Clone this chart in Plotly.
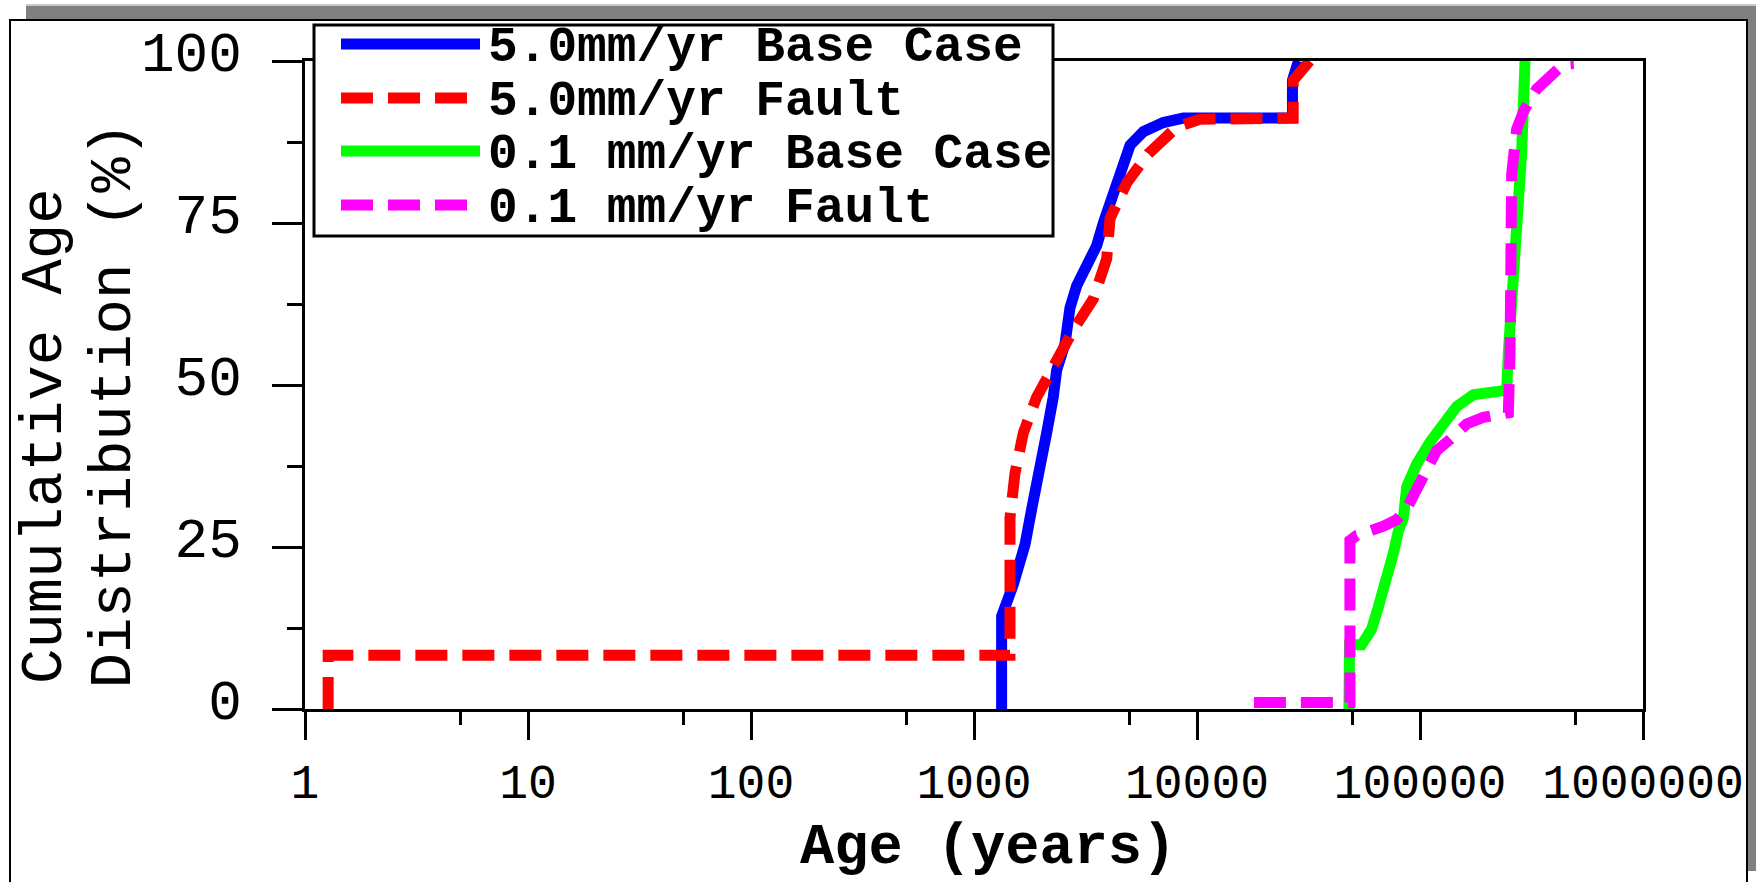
import plotly.graph_objects as go

# ---- data: cumulative age distributions (age in years, cumulative %) ----
base5_age = [1330, 1330, 1500, 1694, 1815, 1942, 2117, 2266, 2348, 2560, 2693, 2886,
             3200, 3548, 3802, 4142, 4517, 5011, 5746, 7060, 8690, 26800, 26800, 27800, 28500]
base5_pct = [0, 14.3, 19.2, 25.4, 30.9, 37.1, 42.6, 48.1, 52.3, 56.4, 61.9, 65.3,
             68.1, 71.5, 75.0, 79.1, 83.3, 87.0, 89.1, 90.5, 91.2, 91.2, 97.0, 99.8, 100]

fault5_age = [1.27, 1.27, 1450, 1450, 1450, 1527, 1664, 1908, 2268, 2788, 3430, 3937,
              4074, 4843, 6055, 8110, 10300, 27000, 27000, 32000]
fault5_pct = [0, 8.3, 8.3, 21.9, 29.5, 36.4, 42.6, 48.1, 53.0, 58.5, 63.3, 69.5,
              75.7, 81.2, 85.7, 89.8, 91.0, 91.2, 97.0, 100]

base01_age = [48000, 48300, 54700, 60600, 65000, 70900, 75900, 80000, 84200, 87200, 96600,
              110900, 127300, 146100, 173500, 232400, 244700, 249000, 262000, 276000,
              285800, 295800]
base01_pct = [0, 9.9, 9.9, 12.3, 15.7, 19.9, 24.0, 27.5, 29.5, 34.3, 37.8,
              41.2, 44.0, 46.7, 48.5, 49.2, 49.2, 55.0, 65.3, 75.7,
              86.0, 100]

fault01_age = [18000, 48500, 48500, 52000, 68500, 78600, 87100, 93300, 100000, 109000,
               118800, 136400, 161900, 192200, 236400, 249000, 253400, 253400, 257700,
               271400, 291000, 333700, 382800, 439300, 489000]
fault01_pct = [1.0, 1.0, 26.0, 26.8, 28.2, 29.2, 30.9, 33.0, 35.4, 37.4,
               39.9, 41.6, 44.0, 45.0, 45.7, 45.7, 55.0, 68.8, 82.6,
               89.5, 92.2, 95.7, 97.7, 99.5, 99.6]

series_names = ["5.0mm/yr Base Case", "5.0mm/yr Fault",
                "0.1 mm/yr Base Case", "0.1 mm/yr Fault"]
series_colors = ["#0000ff", "#ff0000", "#00ff00", "#ff00ff"]
series_dash = ["solid", "32px,15px", "solid", "32px,15px"]

x_tick_vals = [1, 10, 100, 1000, 10000, 100000, 1000000]
x_tick_text = ["1", "10", "100", "1000", "10000", "100000", "1000000"]
x_minor_vals = [5, 50, 500, 5000, 50000, 500000]
y_tick_vals = [0, 25, 50, 75, 100]
y_minor_vals = [12.5, 37.5, 62.5, 87.5]

# ---- layout geometry (pixels) ----
W, H = 1756, 882
L, R, T, B = 305, 1643, 61, 709          # plot area edges
PW, PH = R - L, B - T
FONT = "Liberation Mono"


def px(xp):
    return (xp - L) / PW


def py(yp):
    return (B - yp) / PH


fig = go.Figure()
all_x = [base5_age, fault5_age, base01_age, fault01_age]
all_y = [base5_pct, fault5_pct, base01_pct, fault01_pct]
for xs, ys, name, col, dash in zip(all_x, all_y, series_names, series_colors, series_dash):
    fig.add_trace(go.Scatter(
        x=xs, y=ys, mode="lines", name=name, showlegend=False,
        line=dict(color=col, width=11, dash=dash),
    ))

shapes = []
# window shadow and frame
shapes.append(dict(type="rect", xref="paper", yref="paper", layer="below",
                   x0=px(26), x1=px(1760), y0=py(871), y1=py(4),
                   fillcolor="#808080", line=dict(width=0)))
shapes.append(dict(type="line", xref="paper", yref="paper", layer="below",
                   x0=px(26), x1=px(1760), y0=py(5), y1=py(5),
                   line=dict(color="#c8c8c8", width=2)))
shapes.append(dict(type="rect", xref="paper", yref="paper", layer="below",
                   x0=px(10), x1=px(1747), y0=py(900), y1=py(20),
                   fillcolor="white", line=dict(color="black", width=2)))

# legend box
LEG_X0, LEG_X1, LEG_Y0, LEG_Y1 = 314, 1053, 25, 236
shapes.append(dict(type="rect", xref="paper", yref="paper", layer="above",
                   x0=px(LEG_X0), x1=px(LEG_X1), y0=py(LEG_Y1), y1=py(LEG_Y0),
                   fillcolor="white", line=dict(color="black", width=3)))
row_y = [44, 98, 151, 205]
annotations = []
for yrow, name, col, dash in zip(row_y, series_names, series_colors, series_dash):
    shapes.append(dict(type="line", xref="paper", yref="paper", layer="above",
                       x0=px(341), x1=px(480), y0=py(yrow), y1=py(yrow),
                       line=dict(color=col, width=11, dash=dash)))
    annotations.append(dict(xref="paper", yref="paper", x=px(486), y=py(yrow + 4),
                            xanchor="left", yanchor="middle", showarrow=False,
                            text=name, font=dict(family=FONT, size=49.5, color="black",
                                                 weight="bold")))

# axis titles
annotations.append(dict(xref="paper", yref="paper", x=px(988), y=py(848),
                        xanchor="center", yanchor="middle", showarrow=False,
                        text="Age (years)",
                        font=dict(family=FONT, size=57, color="black", weight="bold")))
annotations.append(dict(xref="paper", yref="paper", x=px(45), y=py(686),
                        xanchor="center", yanchor="bottom", textangle=-90,
                        showarrow=False, text="Cumulative Age",
                        font=dict(family=FONT, size=59, color="black")))
annotations.append(dict(xref="paper", yref="paper", x=px(114), y=py(691),
                        xanchor="center", yanchor="bottom", textangle=-90,
                        showarrow=False, text="Distribution (%)",
                        font=dict(family=FONT, size=59, color="black")))

fig.update_layout(
    width=W, height=H,
    margin=dict(l=L, r=W - R, t=T, b=H - B, pad=0),
    paper_bgcolor="white", plot_bgcolor="rgba(0,0,0,0)",
    shapes=shapes, annotations=annotations,
    showlegend=False,
)
fig.update_xaxes(
    type="log", range=[0, 6], showgrid=False, zeroline=False,
    showline=True, linecolor="black", linewidth=3, mirror=True,
    ticks="outside", ticklen=28, tickwidth=3, tickcolor="black",
    tickvals=x_tick_vals, ticktext=x_tick_text,
    tickfont=dict(family=FONT, size=48, color="black"),
    ticklabelstandoff=0,
    minor=dict(tickvals=x_minor_vals, ticks="outside", ticklen=13,
               tickwidth=3, tickcolor="black", showgrid=False),
)
fig.update_yaxes(
    range=[0, 100], showgrid=False, zeroline=False,
    showline=True, linecolor="black", linewidth=3, mirror=True,
    ticks="outside", ticklen=30, tickwidth=3, tickcolor="black",
    tickvals=y_tick_vals,
    tickfont=dict(family=FONT, size=56, color="black"),
    ticklabelstandoff=19, ticklabelshift=-10,
    minor=dict(tickvals=y_minor_vals, ticks="outside", ticklen=15,
               tickwidth=3, tickcolor="black", showgrid=False),
)

fig.write_html("out.html")
